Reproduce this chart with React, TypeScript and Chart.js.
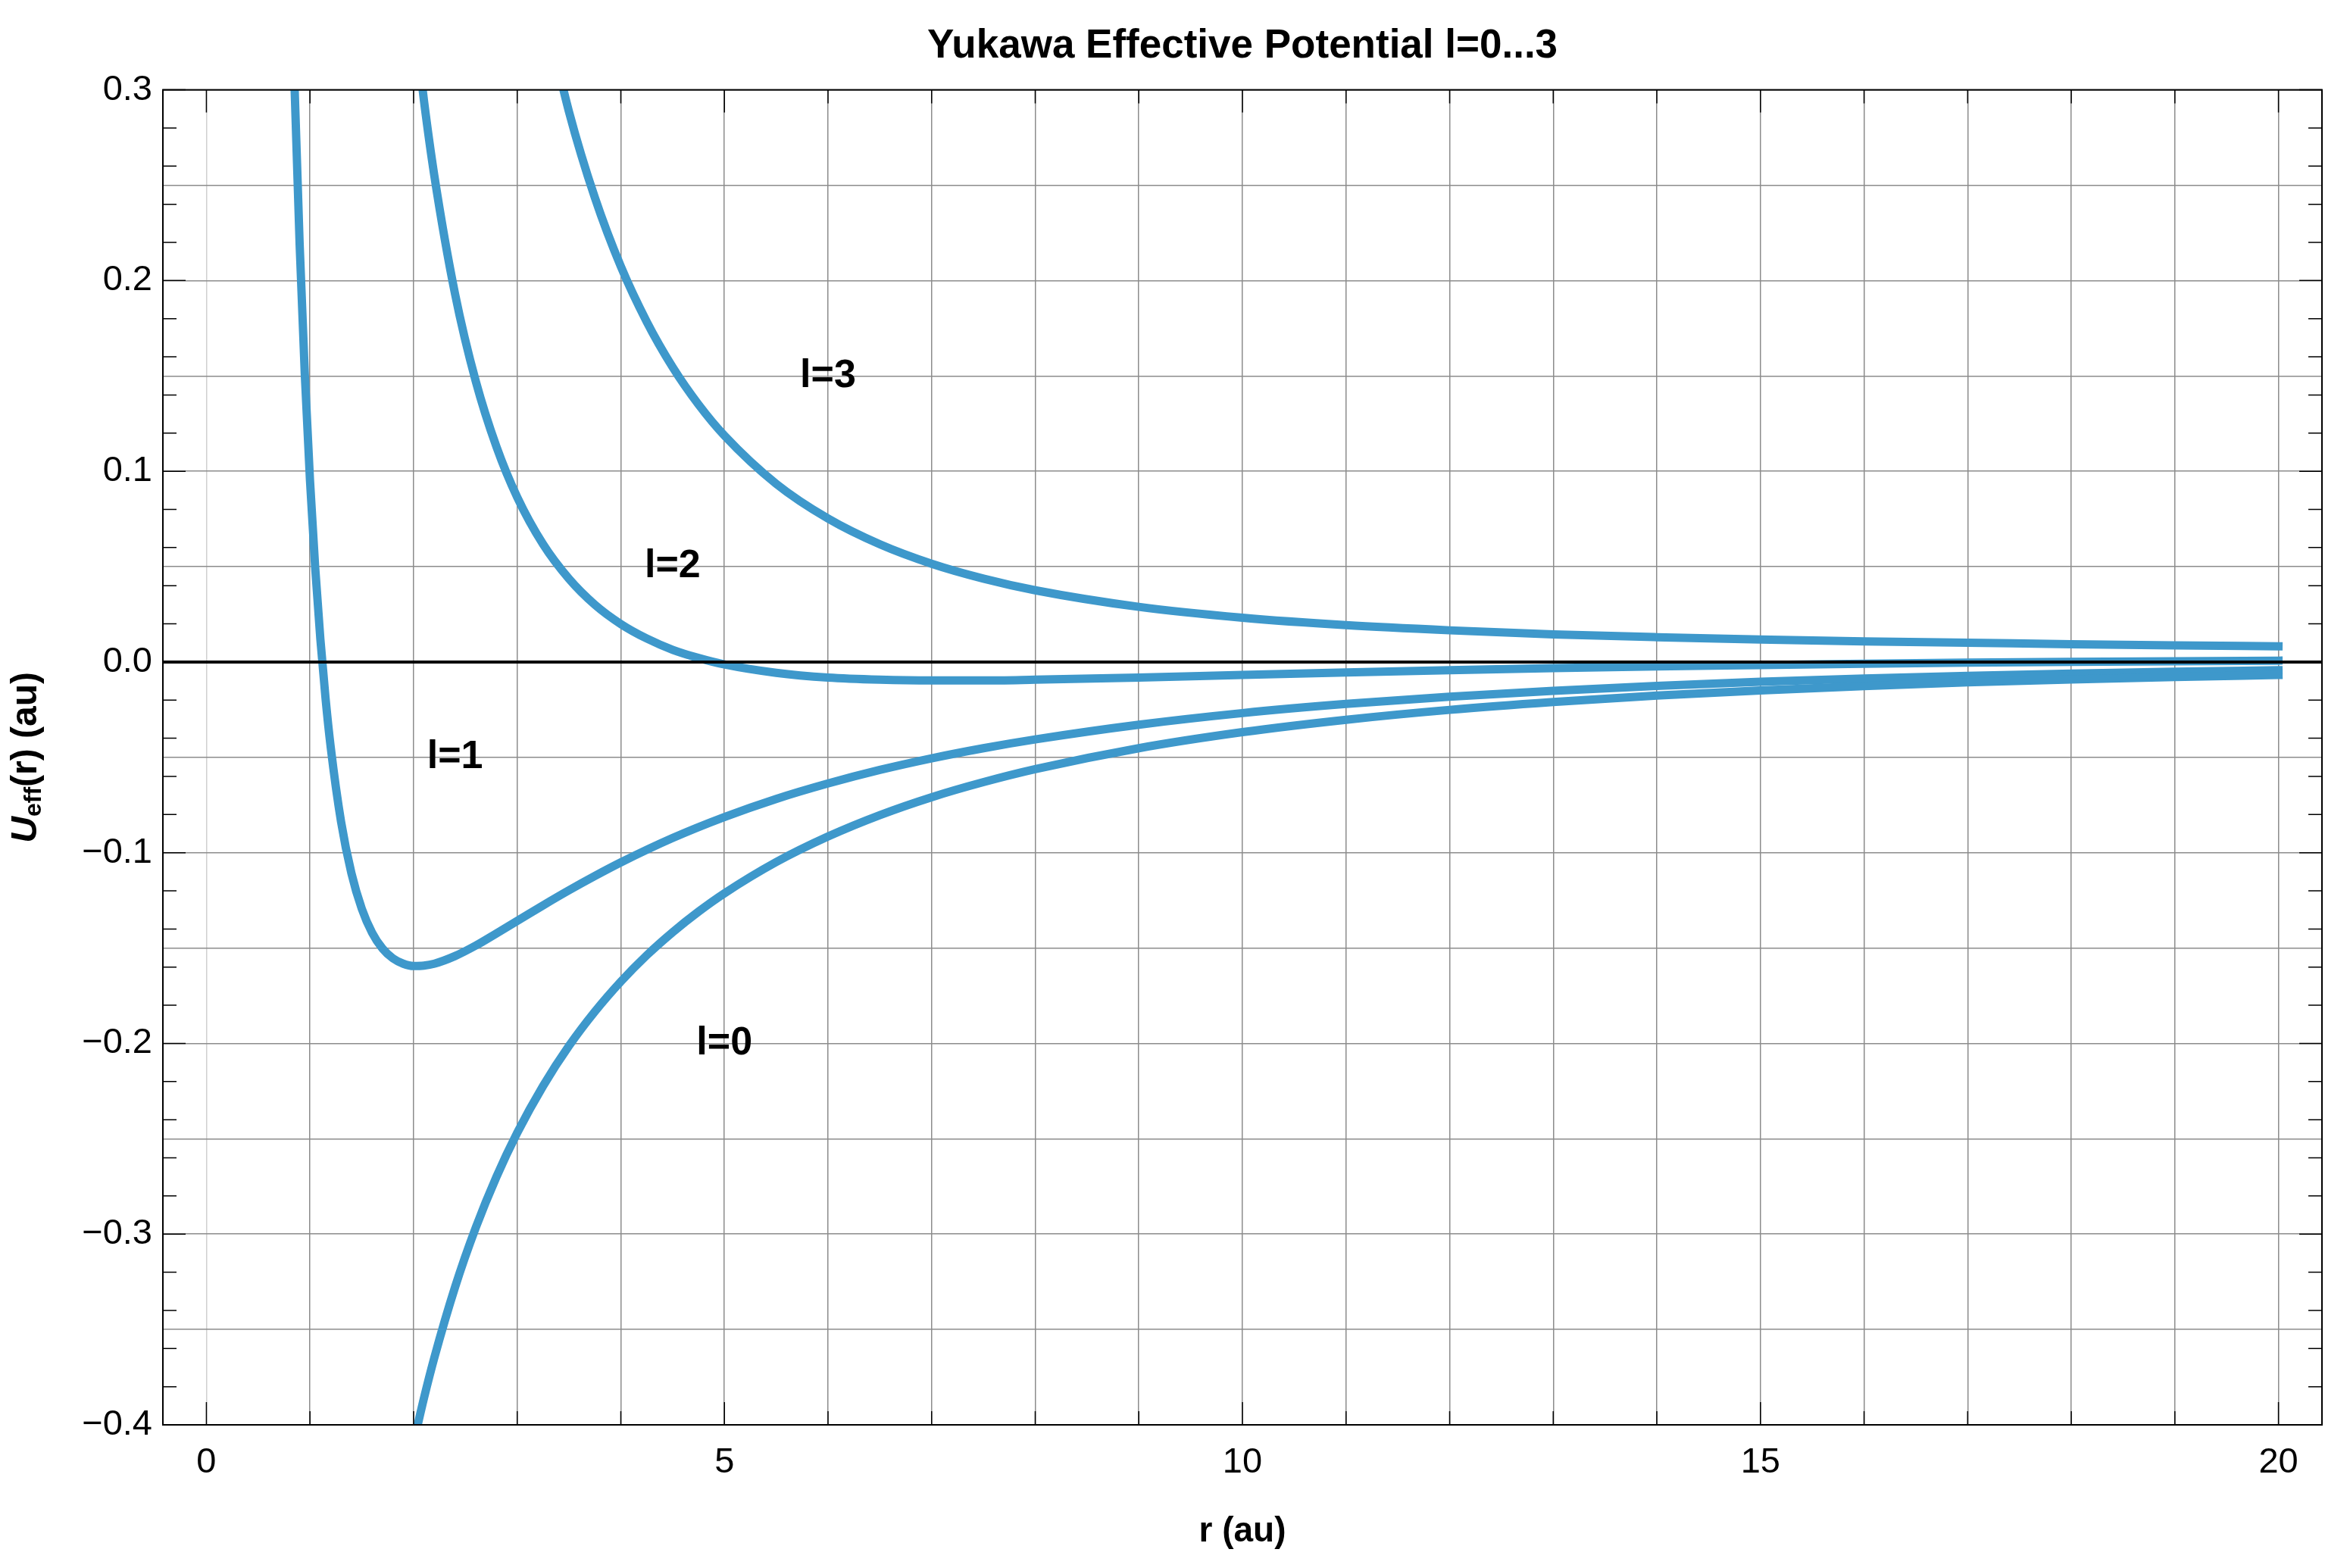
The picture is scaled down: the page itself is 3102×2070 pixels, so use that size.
import { useEffect, useRef } from 'react'
import { Chart, registerables } from 'chart.js'

Chart.register(...registerables)

const FONT = "'Liberation Sans', Arial, sans-serif"
const CURVE_COLOR = '#3e98cb'

// r (au) samples and U_eff(r) (au), one pair of arrays per l
const R_L0 = [2.0, 2.1, 2.2, 2.4, 2.6, 2.8, 3.0, 3.25, 3.5, 3.75, 4.0, 4.25, 4.5, 4.75, 5.0, 5.5, 6, 6.5, 7, 7.5, 8, 9, 10, 11, 12, 13, 14, 15, 16, 17, 18, 19, 20]
const U_L0 = [-0.4094, -0.386, -0.3648, -0.3278, -0.2966, -0.2699, -0.2469, -0.2223, -0.2013, -0.1833, -0.1676, -0.1538, -0.1417, -0.1309, -0.1213, -0.1049, -0.0915, -0.0803, -0.0709, -0.063, -0.0562, -0.0452, -0.0368, -0.0303, -0.0251, -0.021, -0.0176, -0.0149, -0.0126, -0.0107, -0.0092, -0.0079, -0.0068]

const R_L1 = [0.8, 0.85, 0.9, 0.95, 1.0, 1.05, 1.1, 1.15, 1.2, 1.3, 1.4, 1.5, 1.6, 1.7, 1.8, 1.9, 2.0, 2.1, 2.2, 2.4, 2.6, 2.8, 3.0, 3.25, 3.5, 3.75, 4.0, 4.5, 5.0, 5.5, 6, 6.5, 7, 7.5, 8, 9, 10, 11, 12, 13, 14, 15, 16, 17, 18, 19, 20]
const U_L1 = [0.4086, 0.3035, 0.2191, 0.1508, 0.0952, 0.0496, 0.012, -0.019, -0.0447, -0.0838, -0.1108, -0.1294, -0.142, -0.1503, -0.1554, -0.1582, -0.1594, -0.1592, -0.1582, -0.1542, -0.1487, -0.1423, -0.1358, -0.1276, -0.1197, -0.1122, -0.1051, -0.0923, -0.0813, -0.0718, -0.0637, -0.0566, -0.0505, -0.0452, -0.0406, -0.0329, -0.0268, -0.022, -0.0182, -0.0151, -0.0125, -0.0104, -0.0087, -0.0073, -0.0061, -0.0051, -0.0043]

const R_L2 = [2.0, 2.1, 2.2, 2.4, 2.6, 2.8, 3.0, 3.25, 3.5, 3.75, 4.0, 4.25, 4.5, 4.75, 5.0, 5.5, 6, 6.5, 7, 7.5, 8, 9, 10, 11, 12, 13, 14, 15, 16, 17, 18, 19, 20]
const U_L2 = [0.3406, 0.2943, 0.255, 0.193, 0.1472, 0.1128, 0.0864, 0.0617, 0.0436, 0.03, 0.0199, 0.0123, 0.0064, 0.0021, -0.0013, -0.0057, -0.0082, -0.0093, -0.0097, -0.0097, -0.0093, -0.0082, -0.0068, -0.0055, -0.0043, -0.0032, -0.0023, -0.0016, -0.0009, -0.0003, 0.0001, 0.0004, 0.0007]

const R_L3 = [3.25, 3.5, 3.75, 4.0, 4.25, 4.5, 4.75, 5.0, 5.5, 6, 6.5, 7, 7.5, 8, 9, 10, 11, 12, 13, 14, 15, 16, 17, 18, 19, 20]
const U_L3 = [0.3457, 0.2885, 0.2434, 0.2074, 0.1784, 0.1546, 0.135, 0.1187, 0.0934, 0.0752, 0.0617, 0.0515, 0.0437, 0.0376, 0.0289, 0.0232, 0.0193, 0.0166, 0.0145, 0.013, 0.0118, 0.0108, 0.0101, 0.0093, 0.0087, 0.0082]

// in-plot labels, placed in data coordinates
const CURVE_LABELS = ['l=0', 'l=1', 'l=2', 'l=3']
const LABEL_R = [5, 2.4, 4.5, 6]
const LABEL_U = [-0.2, -0.05, 0.05, 0.15]

// axes
const X_MIN = -0.42
const X_MAX = 20.42
const Y_MIN = -0.4
const Y_MAX = 0.3
const X_MAJOR = [0, 5, 10, 15, 20]
const X_GRID = [0, 1, 2, 3, 4, 5, 6, 7, 8, 9, 10, 11, 12, 13, 14, 15, 16, 17, 18, 19, 20]
const Y_GRID = [-0.4, -0.35, -0.3, -0.25, -0.2, -0.15, -0.1, -0.05, 0, 0.05, 0.1, 0.15, 0.2, 0.25, 0.3]
const Y_MINOR: number[] = []
for (let i = -20; i <= 15; i++) Y_MINOR.push(i / 50)

const isTenth = (v: number) => Math.abs(v * 10 - Math.round(v * 10)) < 1e-6
const fmtY = (v: number) => v.toFixed(1).replace('-', '\u2212')

const toPoints = (rs: number[], us: number[]) => rs.map((r, i) => ({ x: r, y: us[i] }))

const overlay = {
  id: 'overlay',
  afterDatasetsDraw(chart: any) {
    const { ctx, chartArea: a, scales } = chart
    const x = scales.x
    const y = scales.y
    ctx.save()

    // r axis at U=0, drawn over the curves
    const y0 = y.getPixelForValue(0)
    ctx.strokeStyle = '#000'
    ctx.lineWidth = 4
    ctx.beginPath()
    ctx.moveTo(a.left, y0)
    ctx.lineTo(a.right, y0)
    ctx.stroke()

    // frame
    ctx.lineWidth = 2
    ctx.strokeRect(a.left, a.top, a.right - a.left, a.bottom - a.top)

    // ticks point inward on all four sides
    ctx.lineWidth = 1.5
    ctx.beginPath()
    X_GRID.forEach(v => {
      const len = X_MAJOR.includes(v) ? 30 : 18
      const px = x.getPixelForValue(v)
      ctx.moveTo(px, a.bottom)
      ctx.lineTo(px, a.bottom - len)
      ctx.moveTo(px, a.top)
      ctx.lineTo(px, a.top + len)
    })
    Y_MINOR.forEach(v => {
      const len = isTenth(v) ? 30 : 18
      const py = y.getPixelForValue(v)
      ctx.moveTo(a.left, py)
      ctx.lineTo(a.left + len, py)
      ctx.moveTo(a.right, py)
      ctx.lineTo(a.right - len, py)
    })
    ctx.stroke()

    // curve labels
    ctx.fillStyle = '#000'
    ctx.font = `bold 52px ${FONT}`
    ctx.textAlign = 'center'
    ctx.textBaseline = 'middle'
    CURVE_LABELS.forEach((t, i) => {
      ctx.fillText(t, x.getPixelForValue(LABEL_R[i]), y.getPixelForValue(LABEL_U[i]))
    })

    // y axis title with subscript
    const parts = [
      { text: 'U', font: `italic bold 48px ${FONT}`, dy: 0 },
      { text: 'eff', font: `bold 32px ${FONT}`, dy: 6 },
      { text: '(r) (au)', font: `bold 48px ${FONT}`, dy: 0 },
    ]
    let total = 0
    const widths = parts.map(p => {
      ctx.font = p.font
      const w = ctx.measureText(p.text).width
      total += w
      return w
    })
    ctx.translate(48, (a.top + a.bottom) / 2)
    ctx.rotate(-Math.PI / 2)
    ctx.textAlign = 'left'
    ctx.textBaseline = 'alphabetic'
    let cx = -total / 2
    parts.forEach((p, i) => {
      ctx.font = p.font
      ctx.fillText(p.text, cx, p.dy)
      cx += widths[i]
    })

    ctx.restore()
  },
}

export default function App() {
  const canvasRef = useRef<HTMLCanvasElement>(null)
  const chartRef = useRef<any>(null)

  useEffect(() => {
    document.body.style.margin = '0'
    document.body.style.overflow = 'hidden'
    if (!canvasRef.current) return

    Chart.defaults.font.family = FONT
    Chart.defaults.color = '#000'

    const series = [
      toPoints(R_L0, U_L0),
      toPoints(R_L1, U_L1),
      toPoints(R_L2, U_L2),
      toPoints(R_L3, U_L3),
    ]

    if (chartRef.current) chartRef.current.destroy()

    chartRef.current = new Chart(canvasRef.current, {
      type: 'line',
      data: {
        datasets: series.map((d, i) => ({
          label: CURVE_LABELS[i],
          data: d,
          borderColor: CURVE_COLOR,
          borderWidth: 11,
          borderCapStyle: 'square',
          borderJoinStyle: 'round',
          pointRadius: 0,
          cubicInterpolationMode: 'monotone',
          clip: 0,
        })),
      },
      plugins: [overlay],
      options: {
        animation: false,
        responsive: true,
        maintainAspectRatio: false,
        layout: { padding: { left: 0, right: 37, top: 0, bottom: 0 } },
        plugins: {
          legend: { display: false },
          tooltip: { enabled: false },
          title: {
            display: true,
            fullSize: false,
            text: 'Yukawa Effective Potential l=0...3',
            color: '#000',
            font: { family: FONT, size: 53, weight: 'bold' },
            padding: { top: 30, bottom: 25 },
          },
        },
        scales: {
          x: {
            type: 'linear',
            min: X_MIN,
            max: X_MAX,
            afterBuildTicks: (s: any) => { s.ticks = X_GRID.map(v => ({ value: v })) },
            afterFit: (s: any) => { s.height = 189 },
            ticks: {
              autoSkip: false,
              maxRotation: 0,
              padding: 22,
              color: '#000',
              font: { family: FONT, size: 47 },
              callback: (v: any) => (X_MAJOR.includes(Number(v)) ? String(v) : ''),
            },
            grid: {
              drawTicks: false,
              lineWidth: 1.5,
              color: (c: any) => (c.tick && c.tick.value === 0 ? '#d0d0d0' : '#8c8c8c'),
            },
            border: { display: false },
            title: {
              display: true,
              text: 'r (au)',
              color: '#000',
              font: { family: FONT, size: 46, weight: 'bold' },
              padding: { top: 0, bottom: 20 },
            },
          },
          y: {
            type: 'linear',
            min: Y_MIN,
            max: Y_MAX,
            afterBuildTicks: (s: any) => { s.ticks = Y_GRID.map(v => ({ value: v })) },
            afterFit: (s: any) => { s.width = 215 },
            ticks: {
              autoSkip: false,
              padding: 14,
              color: '#000',
              font: { family: FONT, size: 47 },
              callback: (v: any) => (isTenth(Number(v)) ? fmtY(Number(v)) : ''),
            },
            grid: {
              drawTicks: false,
              lineWidth: 1.5,
              color: (c: any) => (c.tick && c.tick.value === 0 ? 'rgba(0,0,0,0)' : '#8c8c8c'),
            },
            border: { display: false },
          },
        },
      },
    } as any)

    return () => { if (chartRef.current) chartRef.current.destroy() }
  }, [])

  return (
    <div style={{ width: 3102, height: 2070, position: 'relative', background: '#fff' }}>
      <canvas ref={canvasRef} />
    </div>
  )
}
